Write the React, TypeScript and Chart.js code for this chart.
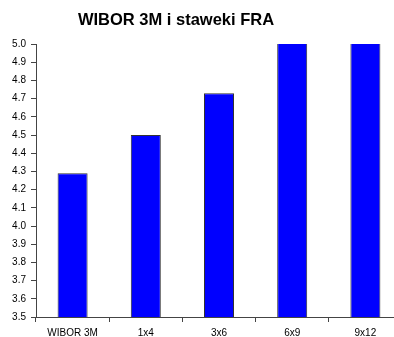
import React, { useEffect, useRef } from "react";
import Chart from "chart.js/auto";

const categories = ["WIBOR 3M", "1x4", "3x6", "6x9", "9x12"];
const rates = [4.29, 4.5, 4.73, 5.06, 5.1];
const yMin = 3.5;
const yMax = 5.0;
const yStep = 0.1;
const chartTitle = "WIBOR 3M i staweki FRA";

const FONT = "'Liberation Sans', Arial, sans-serif";

export default function App() {
  const ref = useRef<HTMLCanvasElement | null>(null);
  useEffect(() => {
    if (!ref.current) return;
    const titlePlugin = {
      id: "customTitle",
      afterDraw(chart: any) {
        const ctx = chart.ctx;
        ctx.save();
        ctx.font = `bold 16.5px ${FONT}`;
        ctx.fillStyle = "#000";
        ctx.textAlign = "center";
        ctx.textBaseline = "alphabetic";
        ctx.fillText(chartTitle, 176, 25);
        ctx.restore();
      },
    };
    const chart = new Chart(ref.current, {
      type: "bar",
      data: {
        labels: categories,
        datasets: [
          {
            data: rates,
            backgroundColor: "#0000FF",
            borderColor: "#333",
            borderWidth: 1,
            categoryPercentage: 1,
            barPercentage: 0.41,
          },
        ],
      },
      options: {
        responsive: false,
        animation: false,
        devicePixelRatio: 1,
        layout: { padding: { left: 0, right: 8, top: 44, bottom: 0 } },
        plugins: {
          legend: { display: false },
          tooltip: { enabled: false },
          title: { display: false },
        },
        scales: {
          x: {
            grid: {
              display: true,
              offset: true,
              drawOnChartArea: false,
              drawTicks: true,
              tickLength: 5,
              color: "#444",
            },
            border: { display: true, color: "#444", width: 1 },
            ticks: {
              font: { family: FONT, size: 10 },
              color: "#000",
              padding: 5,
              maxRotation: 0,
              autoSkip: false,
            },
            afterFit(scale: any) {
              scale.height = 20;
            },
          },
          y: {
            min: yMin,
            max: yMax,
            grid: {
              display: true,
              drawOnChartArea: false,
              drawTicks: true,
              tickLength: 5,
              color: "#444",
            },
            border: { display: true, color: "#444", width: 1 },
            ticks: {
              stepSize: yStep,
              font: { family: FONT, size: 10 },
              color: "#000",
              padding: 5,
              callback: (v: any) => Number(v).toFixed(1),
            },
            afterFit(scale: any) {
              scale.width = 36;
            },
          },
        },
      },
      plugins: [titlePlugin],
    });
    return () => chart.destroy();
  }, []);
  return (
    <div
      style={{
        position: "fixed",
        left: 0,
        top: 0,
        width: 394,
        height: 337,
        overflow: "hidden",
        background: "#fff",
      }}
    >
      <canvas ref={ref} width={410} height={337} style={{ display: "block" }} />
    </div>
  );
}
